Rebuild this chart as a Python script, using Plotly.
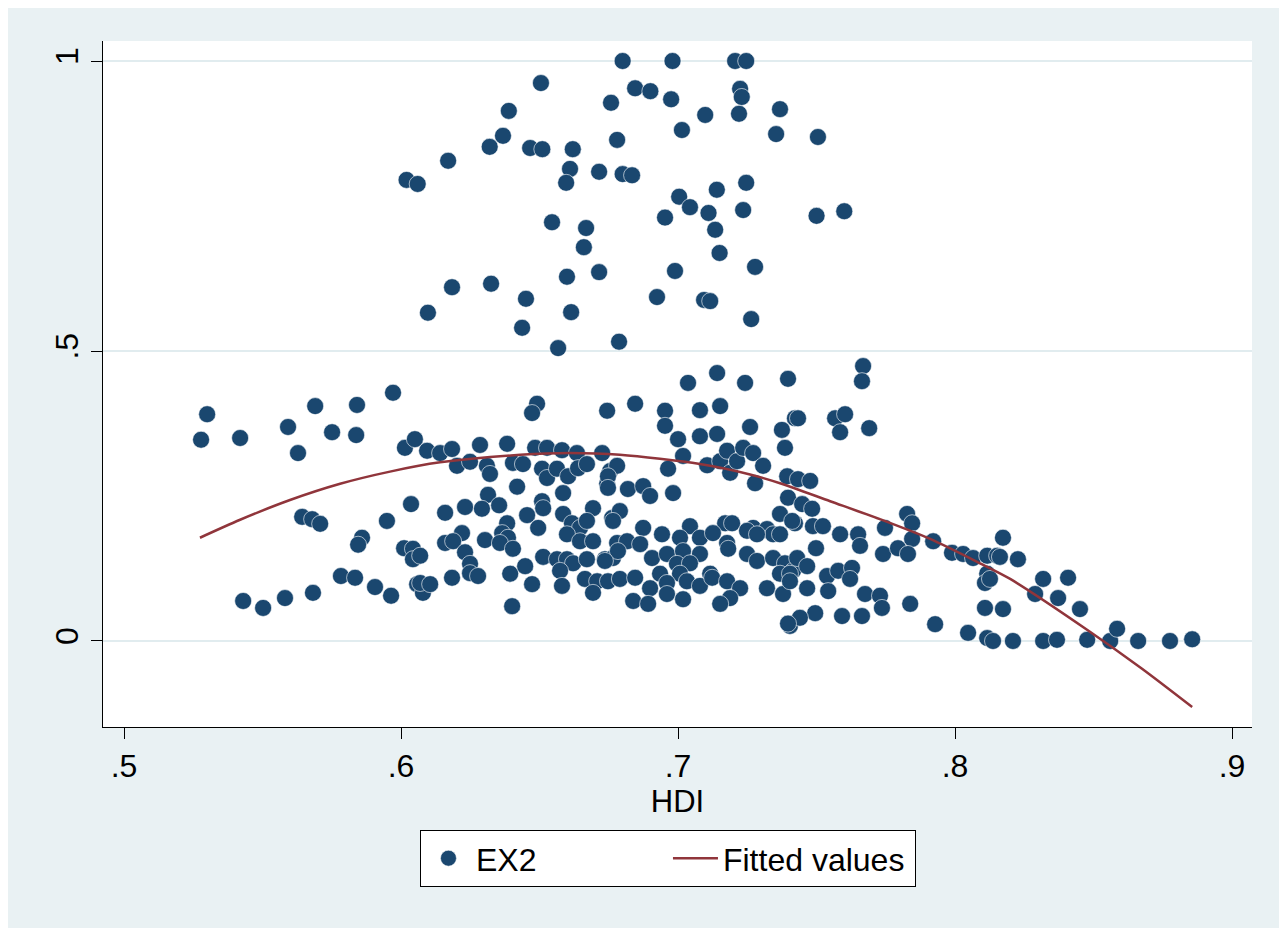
import plotly.graph_objects as go

# ---- data ----
hdi = [
    # upper cloud
    .680, .698, .7206, .7246, .6505, .7224, .723, .6845, .690, .6758, .6975, .7368, .6389, .7098, .722,
    .6368, .7354, .7505, .632, .6466, .651, .7014, .662, .678, .617, .602, .606, .661, .6596, .6715,
    .680, .6834, .7246, .714, .7004, .7043, .711, .7235, .750, .760, .6545, .6668, .6953, .7134, .666,
    .715, .6599, .6715, .6989, .7278, .6184, .6325, .6451, .6924, .7094, .7116, .6097, .6614, .6437,
    .7264, .6567, .6787,
    # middle band
    .7668, .7664, .7036, .7141, .7242, .7397,
    .530, .5278, .5419, .5592, .5690, .5628, .5751, .5841, .5838, .5971, .6014, .605, .6094,
    .6491, .6473, .6744, .6141, .6184, .6285, .6383, .6484, .6527, .6581, .6635, .6726,
    .6202, .6249, .631, .6321, .6404, .6440, .6509, .6527, .6563, .6603, .6585, .6639, .6671, .6755,
    .6744, .6419, .6314,
    .6845, .6953, .6953, .7079, .7152, .700, .7079, .7141, .726, .7375, .7422, .7386, .7018, .7105,
    .7152, .7188, .7177, .7213, .7235, .7271, .7307, .7278, .7394, .678, .6747, .6747, .6819, .6874,
    .6899, .6982, .6964,
    .7433, .7567, .7603, .7585, .769, .7433, .7477, .7397, .7448, .7484,
    # lower band
    .5643, .5679, .5708, .6036, .5949, .5859, .5845, .6011, .6043, .6043, .5430, .5502, .5581, .5682,
    .5783, .5834, .5906, .5964, .6058, .6079,
    .6159, .6231, .6292, .6354, .6509, .6513, .6455, .6495, .6585, .6617, .6646, .6693, .6671, .6762,
    .6383, .6365, .6386, .622, .6159, .6188, .6303, .6357, .6404, .6231, .6513, .6563, .6599, .6621,
    .6671, .6736, .6765, .678, .6599, .6646, .6693, .6069, .6069, .6105, .6184, .6249, .6249, .6278,
    .6394, .6448, .6473, .6401, .6574, .6581, .6664, .6708, .6747, .6693,
    .679, .6765, .6874, .6942, .7043, .7007, .7079, .717, .7195, .7126, .7177, .7181, .7271, .7321,
    .7368, .7422, .7343,
    .6816, .6783, .6863, .6906, .696, .7018, .7079, .6996, .7043, .6935, .7007, .7116, .6736, .679,
    .6845, .6899, .696, .7032, .7079, .7123, .7177, .7224, .7188, .6838, .6892, .696, .7018, .7152,
    .7249, .7285, .7343, .7386, .7415, .7368, .7321, .7379, .7249, .7285,
    .7412, .7368, .7487, .7523, .7498, .7585, .765, .7657, .7747, .7827, .7845, .7845, .774, .7794,
    .783, .7921, .7989, .8029, .8065, .8116, .8152, .8173, .8116, .8108,
    .743, .7466, .7404, .7404, .7538, .7578, .7628, .7621, .7542, .7466, .7675, .7729, .7736, .7495,
    .7592, .7664, .7838, .7404, .744, .7397, .7928, .8047, .8108, .8116,
    .8162, .8227, .8126, .8318, .8408, .8289, .8372, .8451, .8173, .8137, .8209, .8318, .8368, .8477,
    .856, .8585, .8661, .8776, .8856,
]
ex2 = [
    # upper cloud
    1.0, 1.0, 1.0, 1.0, .962, .952, .938, .953, .948, .928, .934, .917, .914, .907, .909,
    .871, .874, .869, .852, .850, .848, .881, .848, .864, .828, .795, .788, .814, .790, .809,
    .805, .803, .790, .778, .766, .748, .738, .743, .733, .741, .722, .712, .730, .709, .679,
    .669, .628, .636, .638, .645, .610, .616, .590, .593, .588, .586, .566, .567, .540,
    .555, .505, .516,
    # middle band
    .474, .448, .445, .462, .445, .452,
    .391, .347, .350, .369, .405, .324, .360, .407, .355, .428, .333, .348, .328,
    .409, .393, .397, .324, .331, .338, .340, .333, .333, .329, .324, .324,
    .302, .309, .302, .288, .307, .305, .297, .281, .297, .284, .255, .298, .305, .293,
    .271, .266, .252,
    .409, .397, .371, .398, .405, .348, .353, .357, .369, .364, .384, .333, .319, .303,
    .310, .290, .328, .310, .333, .324, .302, .272, .284, .302, .284, .264, .262, .267,
    .250, .255, .297,
    .384, .384, .391, .360, .367, .279, .276, .247, .236, .228,
    # lower band
    .214, .210, .202, .236, .207, .178, .166, .160, .159, .141, .069, .057, .074, .083,
    .112, .109, .093, .078, .098, .083,
    .221, .231, .228, .234, .241, .229, .217, .195, .219, .203, .195, .229, .207, .212,
    .203, .186, .178, .186, .169, .172, .174, .169, .159, .153, .145, .141, .141, .134,
    .141, .141, .143, .169, .184, .172, .172, .147, .100, .098, .109, .133, .117, .112,
    .116, .129, .098, .060, .121, .095, .107, .103, .103, .083,
    .224, .207, .195, .184, .198, .178, .178, .203, .203, .186, .169, .159, .195, .193,
    .219, .203, .184,
    .172, .155, .167, .143, .150, .155, .150, .133, .134, .116, .116, .116, .138, .107,
    .109, .091, .100, .103, .095, .109, .103, .091, .074, .069, .064, .081, .072, .064,
    .150, .138, .143, .134, .121, .116, .091, .081, .190, .184,
    .207, .184, .198, .198, .160, .184, .184, .164, .195, .219, .203, .176, .150, .160,
    .150, .172, .152, .150, .143, .147, .147, .178, .116, .100,
    .143, .129, .116, .103, .112, .121, .126, .107, .086, .091, .081, .078, .057, .048,
    .043, .043, .064, .026, .040, .030, .029, .014, .057, .005,
    .145, .141, .107, .107, .109, .081, .074, .055, .055, 0.0, 0.0, 0.0, .002, .002,
    0.0, .021, 0.0, 0.0, .003,
]

# fitted values (quadratic fit curve)
fit_x = [.5274, .5419, .5599, .578, .596, .6141, .643, .661, .679, .7079, .726, .7368,
         .7549, .7729, .791, .809, .8199, .8487, .8675, .8856]
fit_y = [.178, .209, .243, .271, .292, .308, .321, .324, .321, .305, .287, .272,
         .241, .210, .176, .134, .107, .016, -.048, -.114]

x_ticks = [.5, .6, .7, .8, .9]
x_tick_labels = [".5", ".6", ".7", ".8", ".9"]
y_ticks = [0, .5, 1]
y_tick_labels = ["0", ".5", "1"]

NAVY = "#1A476F"
MAROON = "#90353B"
BG = "#E9F1F3"
GRID = "#E1ECEF"
FONT = "Liberation Sans, Arial, sans-serif"

fig = go.Figure()
fig.add_trace(go.Scatter(
    x=hdi, y=ex2, mode="markers", name="EX2",
    marker=dict(color=NAVY, size=17, line=dict(width=0.6, color="white")),
))
fig.add_trace(go.Scatter(
    x=fit_x, y=fit_y, mode="lines", name="Fitted values",
    line=dict(color=MAROON, width=2.5, shape="spline", smoothing=0.8),
))

fig.update_layout(
    width=1275, height=921,
    paper_bgcolor=BG, plot_bgcolor="white",
    margin=dict(l=95, r=31, t=33, b=202),
    font=dict(family=FONT, color="black", size=32),
    showlegend=True,
    legend=dict(
        orientation="h", x=0.4917, xanchor="center", y=-0.150, yanchor="top",
        bgcolor="white", bordercolor="black", borderwidth=1,
        font=dict(size=32, family=FONT), itemwidth=45,
        traceorder="normal", entrywidth=187,
    ),
    xaxis=dict(
        range=[.4924, .9072], tickvals=x_ticks, ticktext=x_tick_labels,
        showgrid=False, zeroline=False, showline=True, linecolor="black", linewidth=1,
        ticks="outside", ticklen=11, tickwidth=1, tickcolor="black",
        tickfont=dict(size=32, family=FONT),
        title=dict(text="HDI", font=dict(size=31, family=FONT), standoff=2),
    ),
    yaxis=dict(
        range=[-.1483, 1.0345], tickvals=y_ticks, ticktext=y_tick_labels,
        showgrid=True, gridcolor=GRID, gridwidth=2, zeroline=False,
        showline=True, linecolor="black", linewidth=1,
        ticks="outside", ticklen=11, tickwidth=1, tickcolor="black",
        tickangle=-90, tickfont=dict(size=32, family=FONT),
    ),
)

fig.write_html("out.html")
